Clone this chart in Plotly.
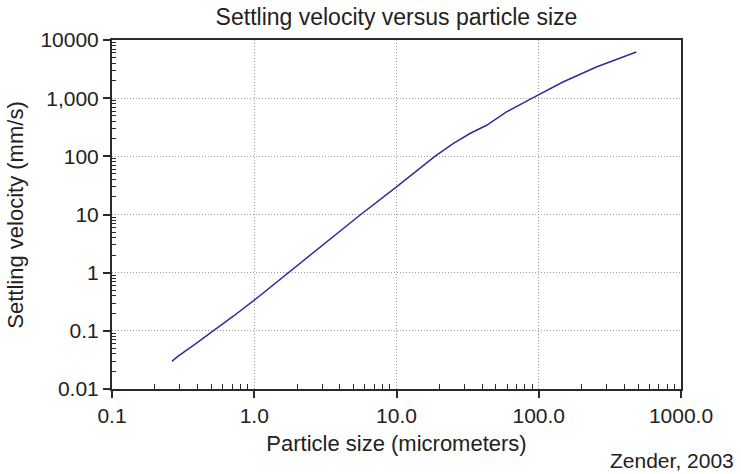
import plotly.graph_objects as go

size_um = [0.264, 0.287, 0.38, 0.505, 0.716, 1.0, 1.44, 1.74, 3.1, 5.55, 10.0, 14.0, 18.6, 25.0, 32.8, 43.0, 59.3, 86.0, 100.5, 148.0, 254.0, 485.0]
velocity_mms = [0.0298, 0.0357, 0.058, 0.096, 0.18, 0.337, 0.69, 1.0, 3.1, 9.8, 29.8, 57.0, 100.0, 165.0, 247.0, 342.0, 580.0, 946.0, 1166.0, 1897.0, 3436.0, 6220.0]

x_tickvals = [0.1, 1, 10, 100, 1000]
x_ticktext = ["0.1", "1.0", "10.0", "100.0", "1000.0"]
y_tickvals = [0.01, 0.1, 1, 10, 100, 1000, 10000]
y_ticktext = ["0.01", "0.1", "1", "10", "100", "1,000", "10000"]

def minor_vals(lo, hi):
    out = []
    d = lo
    while d < hi:
        for k in range(2, 10):
            out.append(k * d)
        d *= 10
    return out

FONT = "Liberation Sans, Arial, sans-serif"
TXT = "#222222"
AX = "#2a2a2a"
GRID = "#9a9a9a"

fig = go.Figure()
fig.add_trace(go.Scatter(x=size_um, y=velocity_mms, mode="lines",
                         line=dict(color="#2e2e9a", width=1.5),
                         showlegend=False, hoverinfo="skip"))

fig.update_layout(
    width=741, height=474,
    margin=dict(l=111.5, r=59.5, t=40, b=85),
    paper_bgcolor="white", plot_bgcolor="white",
    font=dict(family=FONT, color=TXT, size=21),
    title=dict(text="Settling velocity versus particle size", x=(111.5 + 570 / 2) / 741, xanchor="center",
               y=1 - 17 / 474, yanchor="middle", font=dict(size=23, color=TXT)),
)

fig.update_xaxes(
    type="log", range=[-1, 3],
    tickmode="array", tickvals=x_tickvals, ticktext=x_ticktext,
    ticks="outside", ticklen=7, tickwidth=1.5, tickcolor=AX,
    showline=True, linecolor=AX, linewidth=2, mirror=True,
    showgrid=True, gridcolor=GRID, griddash="1px,2px", gridwidth=1,
    zeroline=False,
    tickfont=dict(size=21, color=TXT),
    title=dict(text="Particle size (micrometers)", font=dict(size=22, color=TXT), standoff=9),
    minor=dict(tickmode="array", tickvals=minor_vals(0.1, 1000), ticks="inside", ticklen=5,
               tickwidth=1.2, tickcolor=AX, showgrid=False),
)
fig.update_yaxes(
    type="log", range=[-2, 4],
    tickmode="array", tickvals=y_tickvals, ticktext=y_ticktext,
    ticks="outside", ticklen=7, tickwidth=1.5, tickcolor=AX,
    showline=True, linecolor=AX, linewidth=2, mirror=True,
    showgrid=True, gridcolor=GRID, griddash="1px,2px", gridwidth=1,
    zeroline=False,
    tickfont=dict(size=21, color=TXT),
    minor=dict(tickmode="array", tickvals=minor_vals(0.01, 10000), ticks="inside", ticklen=4,
               tickwidth=1.2, tickcolor=AX, showgrid=False),
)

fig.add_annotation(text="Settling velocity (mm/s)", xref="paper", yref="paper",
                   x=(14 - 111.5) / 570, y=(389 - 215) / 349, textangle=-90,
                   xanchor="center", yanchor="middle", showarrow=False,
                   font=dict(size=22, color=TXT))

fig.add_annotation(text="Zender, 2003", xref="paper", yref="paper",
                   x=(736.7 - 111.5) / 570, y=(389 - 460) / 349,
                   xanchor="right", yanchor="middle", showarrow=False,
                   font=dict(size=21, color=TXT))

fig.write_html("out.html")
